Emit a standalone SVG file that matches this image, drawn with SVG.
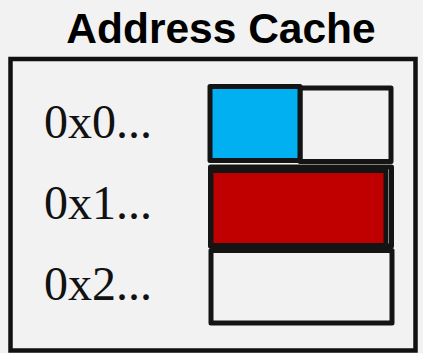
<svg xmlns="http://www.w3.org/2000/svg" width="423" height="353" viewBox="0 0 423 353">
  <style>
    .title { font-family: "Liberation Sans", Arial, sans-serif; font-weight: bold; font-size: 42.5px; fill: #000; }
    .addr { font-family: "Liberation Serif", "Times New Roman", serif; font-size: 48px; fill: #111; }
    .cell { stroke: #141414; stroke-width: 5; stroke-linejoin: round; }
    .empty { fill: #f2f2f2; }
  </style>
  <rect width="423" height="353" fill="#f2f2f2"/>
  <text class="title" x="221" y="43" text-anchor="middle">Address Cache</text>

  <g id="cache">
    <rect x="10.5" y="59" width="405" height="291.5" fill="none" stroke="#111" stroke-width="4.5"/>
  </g>

  <g id="row0">
    <text class="addr" x="44" y="138">0x0...</text>
    <rect class="cell empty" x="300" y="88" width="91" height="73.5" stroke-width="4.5"/>
    <rect class="cell" x="210" y="86.5" width="90" height="74" fill="#00b0f0"/>
  </g>

  <g id="row1">
    <text class="addr" x="44" y="218.5">0x1...</text>
    <rect class="cell empty" x="210.5" y="167" width="181" height="79" stroke-width="4.5"/>
    <rect class="cell" x="211" y="170.5" width="175" height="75" fill="#c00000"/>
  </g>

  <g id="row2">
    <text class="addr" x="44" y="299.5">0x2...</text>
    <rect class="cell empty" x="211" y="250.5" width="181" height="72.5"/>
  </g>
</svg>
